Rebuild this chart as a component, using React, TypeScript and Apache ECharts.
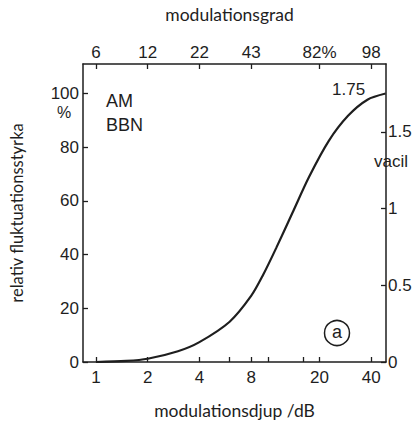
import React, { useEffect, useRef } from "react";
import * as echarts from "echarts";

// bottom axis: modulation depth in dB (log scale)
const dbTicks = [1, 2, 4, 8, 20, 40];
const dbMinorTicks = [6, 10, 16];
// top axis: modulation degree labels at the same positions
const gradLabels = ["6", "12", "22", "43", "82%", "98"];
// left axis
const pctTicks = [0, 20, 40, 60, 80, 100];
// right axis (vacil)
const vacilTicks = [0, 0.5, 1, 1.5];
const vacilAt100 = 1.75;

// curve: relative fluctuation strength (%) vs modulation depth (dB)
const curveDb = [1, 1.5, 2, 3, 4, 6, 8, 9.4, 11.2, 13.9, 17.4, 22.6, 29.3, 38, 48.5];
const curvePct = [0, 0.4, 1.2, 4, 7.4, 15, 24.6, 32.5, 42.5, 55.5, 69, 82.3, 91.7, 97.7, 100];

const X_MIN = -0.25;
const X_MAX = 5.607;
const Y_MAX = 111;

const INK = "#1e1e1e";
const LABEL_FONT = "'Liberation Sans', Arial, sans-serif";
const TITLE_FONT = "Lato, 'Open Sans', sans-serif";

export default function App() {
  const ref = useRef<HTMLDivElement>(null);

  useEffect(() => {
    if (!ref.current) return;
    const chart = echarts.init(ref.current, undefined, { renderer: "svg" });
    const lx = (v: number) => Math.log2(v);
    const near = (a: number, b: number) => Math.abs(a - b) < 1e-6;

    const axisLine = { show: true, onZero: false, lineStyle: { color: INK, width: 1.5 } };
    const tickStyle = { color: INK, width: 1.3 };
    const labelStyle = { fontFamily: LABEL_FONT, fontSize: 17, color: INK };
    const titleStyle = { fontFamily: TITLE_FONT, fontSize: 17.5, color: INK };

    const baseX = {
      type: "value" as const,
      min: X_MIN,
      max: X_MAX,
      splitLine: { show: false },
      axisLine,
    };

    chart.setOption({
      animation: false,
      backgroundColor: "#fff",
      grid: { left: 75, right: 32, top: 63, bottom: 50 },
      xAxis: [
        {
          ...baseX,
          position: "bottom",
          name: "modulationsdjup /dB",
          nameLocation: "middle",
          nameGap: 39,
          nameTextStyle: titleStyle,
          axisTick: {
            show: true,
            inside: true,
            length: 5,
            customValues: [...dbTicks, ...dbMinorTicks].map(lx),
            lineStyle: tickStyle,
          },
          axisLabel: {
            ...labelStyle,
            customValues: dbTicks.map(lx),
            margin: 7,
            formatter: (v: number) => {
              const i = dbTicks.findIndex((d) => near(lx(d), v));
              return i >= 0 ? String(dbTicks[i]) : "";
            },
          },
        },
        {
          ...baseX,
          position: "top",
          name: "modulationsgrad",
          nameLocation: "middle",
          nameGap: 41,
          nameTextStyle: { ...titleStyle, padding: [0, 10, 0, 0] },
          axisTick: {
            show: true,
            inside: true,
            length: 5,
            customValues: dbTicks.map(lx),
            lineStyle: tickStyle,
          },
          axisLabel: {
            ...labelStyle,
            customValues: dbTicks.map(lx),
            margin: 3,
            formatter: (v: number) => {
              const i = dbTicks.findIndex((d) => near(lx(d), v));
              return i >= 0 ? gradLabels[i] : "";
            },
          },
        },
      ],
      yAxis: [
        {
          type: "value",
          min: 0,
          max: Y_MAX,
          position: "left",
          name: "relativ fluktuationsstyrka",
          nameLocation: "middle",
          nameRotate: 90,
          nameGap: 58,
          nameTextStyle: { ...titleStyle, fontSize: 16.5 },
          splitLine: { show: false },
          axisLine,
          axisTick: {
            show: true,
            inside: true,
            length: 5,
            customValues: pctTicks,
            lineStyle: tickStyle,
          },
          axisLabel: {
            ...labelStyle,
            customValues: pctTicks,
            margin: 4,
          },
        },
        {
          type: "value",
          min: 0,
          max: (Y_MAX * vacilAt100) / 100,
          position: "right",
          splitLine: { show: false },
          axisLine,
          axisTick: {
            show: true,
            inside: true,
            length: 5,
            customValues: vacilTicks,
            lineStyle: tickStyle,
          },
          axisLabel: {
            ...labelStyle,
            customValues: vacilTicks,
            margin: 2,
            formatter: (v: number) => String(v),
          },
        },
      ],
      series: [
        {
          type: "line",
          xAxisIndex: 0,
          yAxisIndex: 0,
          smooth: 0.3,
          showSymbol: false,
          symbol: "none",
          lineStyle: { color: INK, width: 2.2 },
          data: curveDb.map((d, i) => [lx(d), curvePct[i]]),
        },
      ],
      graphic: [
        {
          type: "text",
          left: 57,
          top: 104,
          style: { text: "%", font: `16px ${LABEL_FONT}`, fill: INK },
        },
        {
          type: "text",
          left: 106,
          top: 92,
          style: { text: "AM", font: `18px ${LABEL_FONT}`, fill: INK },
        },
        {
          type: "text",
          left: 106,
          top: 116,
          style: { text: "BBN", font: `18px ${LABEL_FONT}`, fill: INK },
        },
        {
          type: "text",
          left: 332,
          top: 81,
          style: { text: "1.75", font: `17px ${LABEL_FONT}`, fill: INK },
        },
        {
          type: "text",
          left: 373,
          top: 150,
          style: {
            text: "vacil",
            font: `17px ${LABEL_FONT}`,
            fill: INK,
            backgroundColor: "#fff",
            padding: [3, 1, 3, 1],
          },
        },
        {
          type: "circle",
          shape: { cx: 337, cy: 333, r: 12.5 },
          style: { fill: "none", stroke: INK, lineWidth: 1.5 },
        },
        {
          type: "text",
          x: 337,
          y: 332,
          style: {
            text: "a",
            font: `18px ${LABEL_FONT}`,
            fill: INK,
            align: "center",
            verticalAlign: "middle",
          },
        },
      ],
    });

    return () => chart.dispose();
  }, []);

  return (
    <div
      ref={ref}
      style={{ position: "fixed", left: 0, top: 0, width: 418, height: 424 }}
    />
  );
}
